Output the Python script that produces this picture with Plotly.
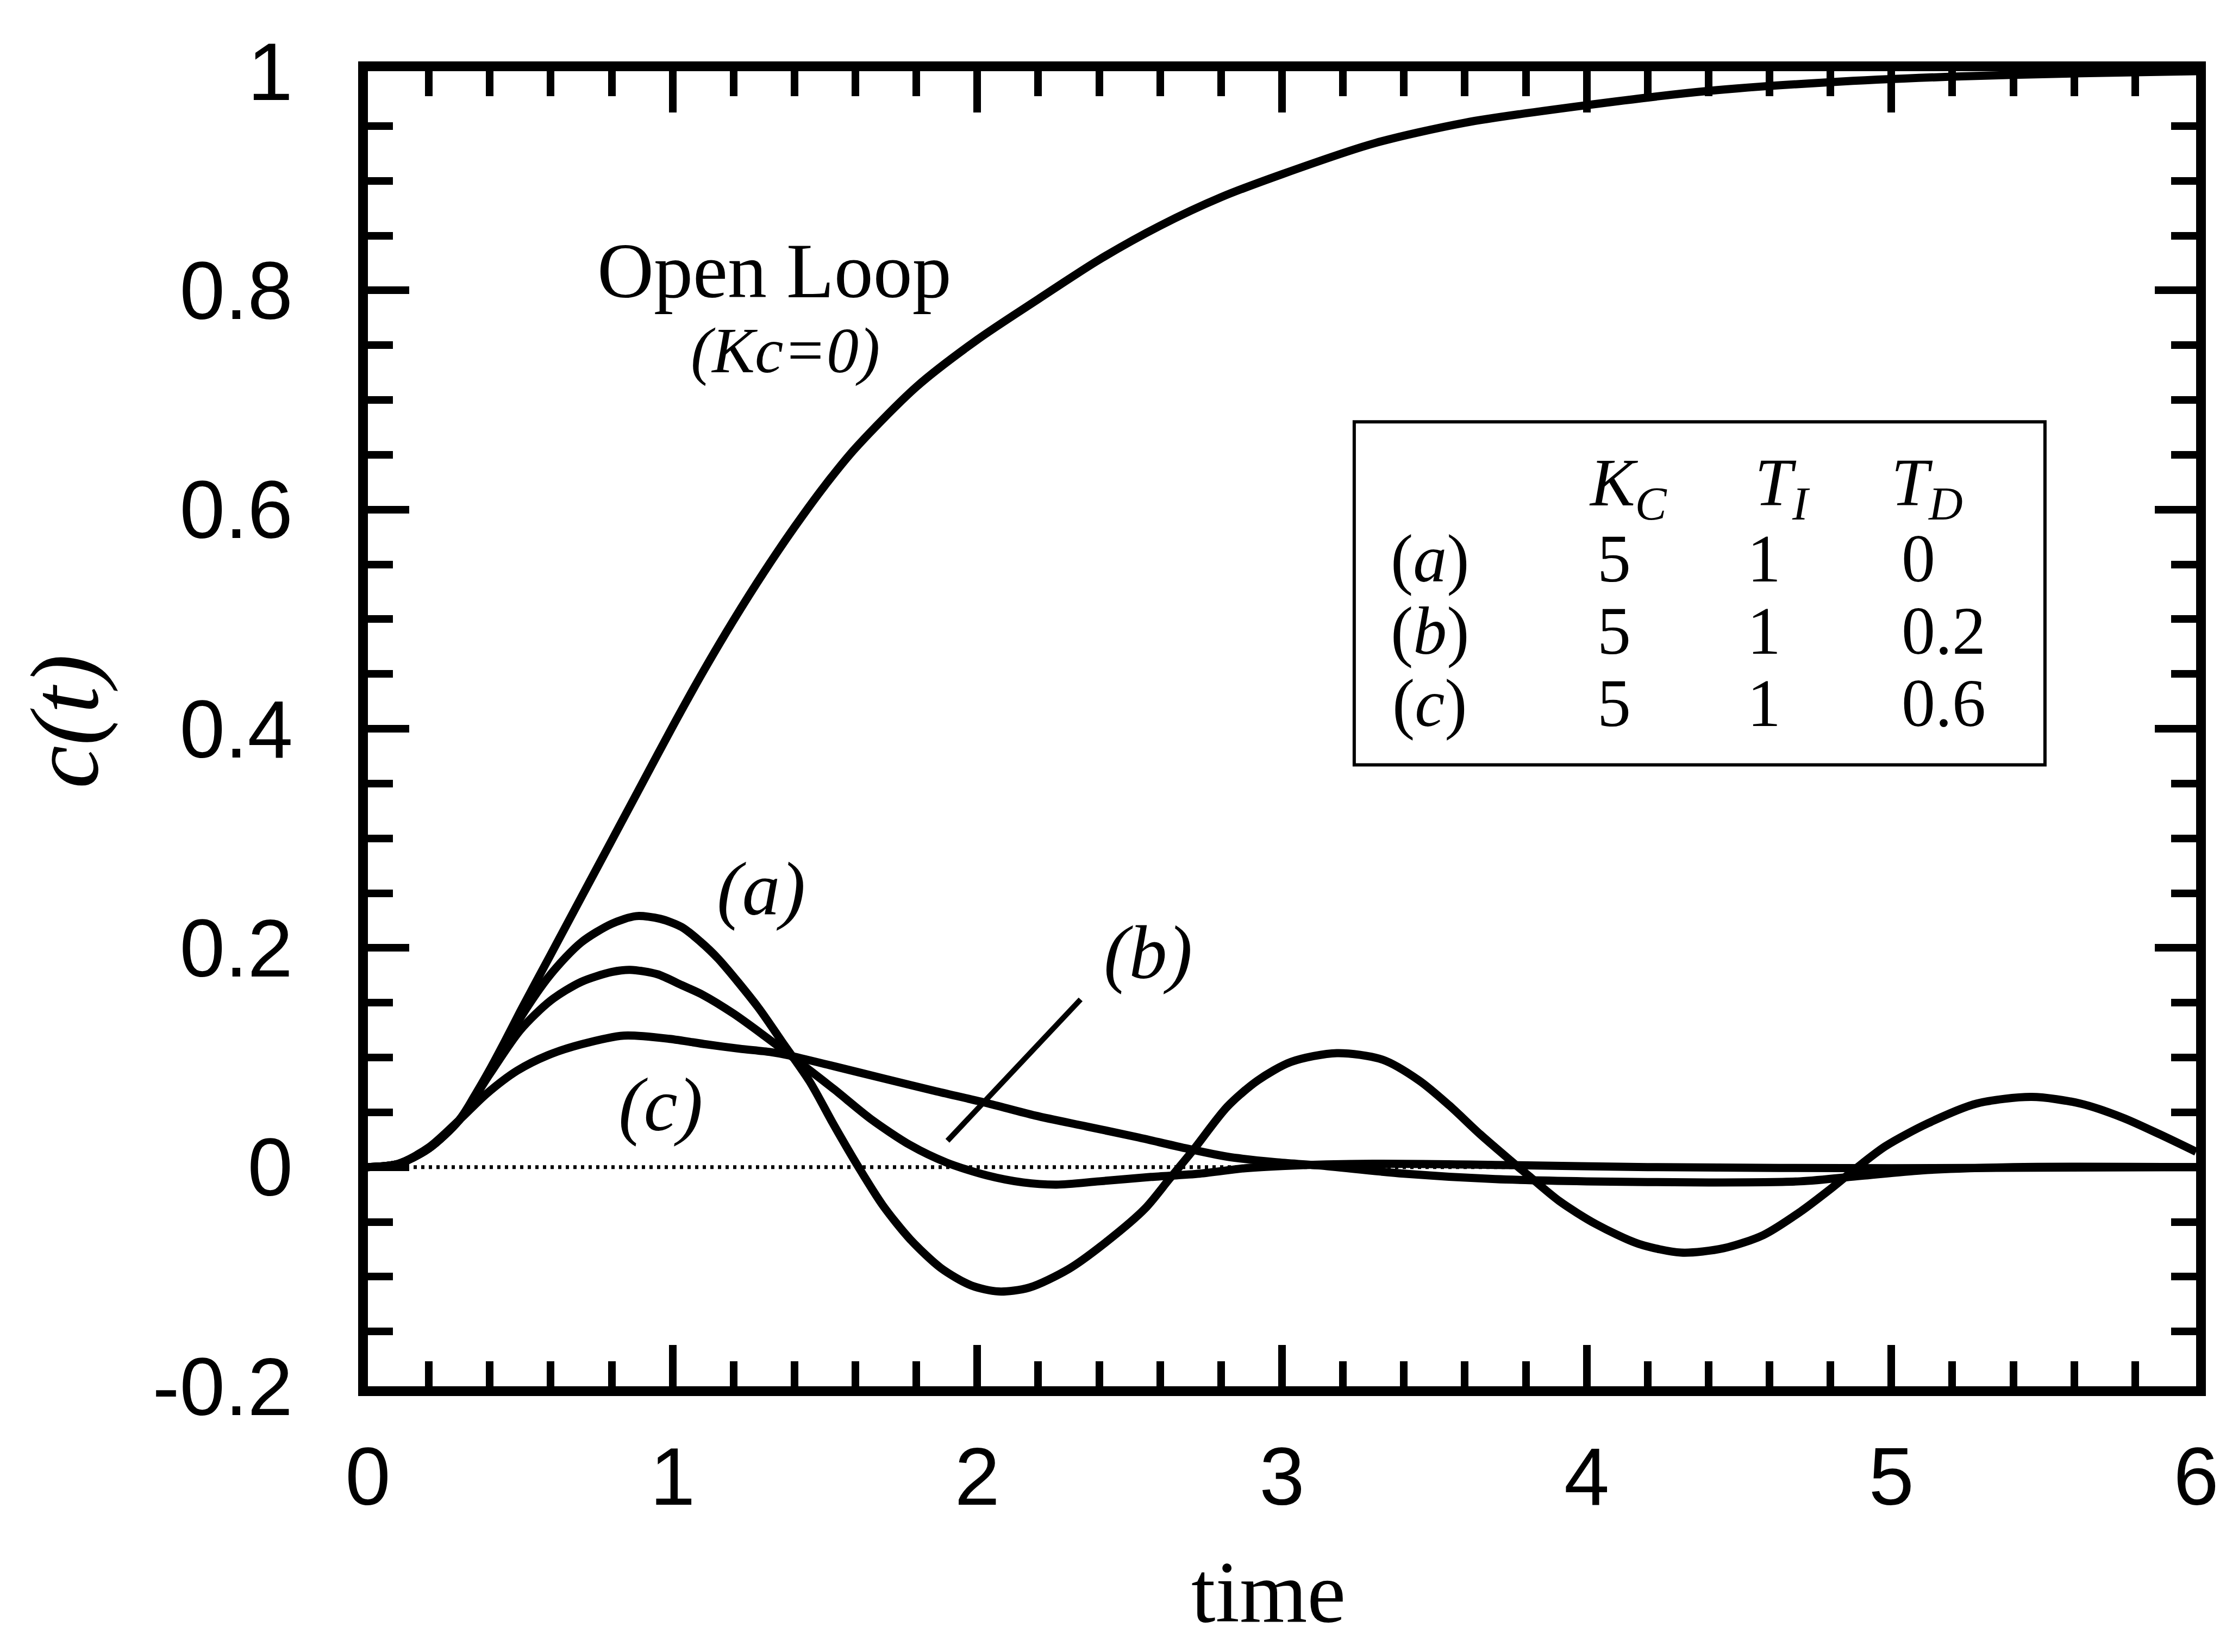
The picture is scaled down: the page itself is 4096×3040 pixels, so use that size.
import plotly.graph_objects as go

# ---------------- data ----------------
t_open = [0, 0.1, 0.2, 0.3, 0.35, 0.4, 0.45, 0.5, 0.6, 0.7, 0.8, 0.9, 1.0, 1.1, 1.2, 1.3,
          1.4, 1.5, 1.6, 1.8, 2.0, 2.2, 2.4, 2.6, 2.8, 3.0, 3.3, 3.6, 4.0, 4.4, 4.8, 5.2,
          5.6, 6.0]
c_open = [0, 0.003, 0.017, 0.043, 0.065, 0.089, 0.115, 0.142, 0.194, 0.246, 0.298, 0.350,
          0.402, 0.452, 0.499, 0.543, 0.584, 0.622, 0.656, 0.712, 0.755, 0.792, 0.828,
          0.859, 0.885, 0.906, 0.934, 0.953, 0.969, 0.982, 0.990, 0.995, 0.998, 1.0]

t_a = [0, 0.1, 0.2, 0.3, 0.4, 0.5, 0.6, 0.7, 0.8, 0.88, 0.96, 1.03, 1.09, 1.15, 1.28,
       1.36, 1.45, 1.53, 1.61, 1.69, 1.78, 1.88, 1.98, 2.07, 2.17, 2.30, 2.42, 2.55,
       2.63, 2.71, 2.82, 2.92, 3.03, 3.18, 3.33, 3.45, 3.55, 3.65, 3.75, 3.81, 3.91,
       4.03, 4.17, 4.31, 4.45, 4.58, 4.70, 4.80, 4.88, 4.98, 5.12, 5.28, 5.46, 5.62,
       5.76, 5.88, 6.0]
c_a = [0, 0.003, 0.017, 0.043, 0.087, 0.136, 0.176, 0.205, 0.222, 0.229, 0.2265, 0.219,
       0.206, 0.190, 0.146, 0.114, 0.078, 0.038, 0.000, -0.035, -0.066, -0.092, -0.108,
       -0.1135, -0.110, -0.093, -0.069, -0.038, -0.011, 0.016, 0.055, 0.079, 0.096,
       0.104, 0.098, 0.079, 0.056, 0.030, 0.006, -0.008, -0.031, -0.052, -0.070,
       -0.078, -0.074, -0.062, -0.041, -0.020, -0.002, 0.019, 0.040, 0.058, 0.064,
       0.058, 0.045, 0.030, 0.014]

t_b = [0, 0.1, 0.2, 0.3, 0.4, 0.5, 0.6, 0.7, 0.8, 0.86, 0.95, 1.03, 1.10, 1.20, 1.30,
       1.40, 1.53, 1.65, 1.78, 1.90, 2.03, 2.15, 2.26, 2.40, 2.57, 2.73, 2.88, 3.0, 3.3,
       3.7, 4.2, 5.0, 6.0]
c_b = [0, 0.003, 0.017, 0.043, 0.085, 0.125, 0.152, 0.169, 0.178, 0.180, 0.176, 0.166,
       0.157, 0.140, 0.120, 0.099, 0.071, 0.044, 0.020, 0.004, -0.0075, -0.014, -0.016,
       -0.013, -0.009, -0.006, -0.001, 0.001, 0.003, 0.002, 0.0, -0.001, 0.0]

t_c = [0, 0.1, 0.2, 0.3, 0.39, 0.49, 0.59, 0.70, 0.84, 0.99, 1.11, 1.22, 1.32, 1.38,
       1.53, 1.69, 1.86, 2.03, 2.19, 2.36, 2.53, 2.67, 2.82, 2.98, 3.12, 3.4, 3.7, 4.0,
       4.4, 4.7, 4.9, 5.1, 5.4, 6.0]
c_c = [0, 0.003, 0.018, 0.043, 0.067, 0.088, 0.102, 0.112, 0.120, 0.117, 0.112, 0.108,
       0.105, 0.102, 0.092, 0.081, 0.0695, 0.0585, 0.047, 0.037, 0.027, 0.018, 0.0095,
       0.0044, 0.0015, -0.006, -0.011, -0.013, -0.014, -0.013, -0.008, -0.003, 0.0, 0.0]

t_zero = [0, 6]
c_zero = [0, 0]

pointer_t = [1.902, 2.339]
pointer_c = [0.024, 0.153]

x_tickvals = [0, 1, 2, 3, 4, 5, 6]
x_ticktext = ["0", "1", "2", "3", "4", "5", "6"]
y_tickvals = [-0.2, 0, 0.2, 0.4, 0.6, 0.8, 1.0]
y_ticktext = ["-0.2", "0", "0.2", "0.4", "0.6", "0.8", "1"]

table_labels = ["(<i>a</i>)", "(<i>b</i>)", "(<i>c</i>)"]
table_kc = ["5", "5", "5"]
table_ti = ["1", "1", "1"]
table_td = ["0", "0.2", "0.6"]
table_headers = ["<i>K</i><sub><i>C</i></sub>", "<i>T</i><sub><i>I</i></sub>",
                 "<i>T</i><sub><i>D</i></sub>"]

# ---------------- figure ----------------
W, H = 4096, 3040
LW_CURVE = 15
fig = go.Figure()

fig.add_trace(go.Scatter(x=t_zero, y=c_zero, mode="lines",
                         line=dict(color="black", width=7, dash="6px,8px"),
                         hoverinfo="skip"))
for tt, cc in [(t_open, c_open), (t_a, c_a), (t_b, c_b), (t_c, c_c)]:
    fig.add_trace(go.Scatter(x=tt, y=cc, mode="lines",
                             line=dict(color="black", width=LW_CURVE,
                                       shape="spline", smoothing=0.8),
                             hoverinfo="skip"))
fig.add_trace(go.Scatter(x=pointer_t, y=pointer_c, mode="lines",
                         line=dict(color="black", width=10), hoverinfo="skip"))

serif = "Liberation Serif"
sans = "Liberation Sans"

ann = []
def txt(x, y, text, size, xanchor="center", italic=False, xref="x", yref="y", angle=0):
    if italic:
        text = "<i>" + text + "</i>"
    ann.append(dict(x=x, y=y, xref=xref, yref=yref, text=text, showarrow=False,
                    xanchor=xanchor, yanchor="middle", textangle=angle,
                    font=dict(family=serif, size=size, color="black")))

txt(1.335, 0.818, "Open Loop", 144)
txt(1.37, 0.745, "(Kc=0)", 118, italic=True)
txt(1.29, 0.254, "(a)", 140, italic=True)
txt(2.56, 0.196, "(b)", 140, italic=True)
txt(0.96, 0.057, "(c)", 140, italic=True)

# table
hdr_x = [4.136, 4.643, 5.117]
for hx, h in zip(hdr_x, table_headers):
    txt(hx, 0.620, h, 124)
row_y = [0.555, 0.489, 0.423]
for ry, lab, kc, ti, td in zip(row_y, table_labels, table_kc, table_ti, table_td):
    txt(3.486, ry, lab, 124)
    txt(4.090, ry, kc, 124)
    txt(4.582, ry, ti, 124)
    txt(5.030, ry, td, 124, xanchor="left")

fig.add_shape(type="rect", xref="x", yref="y", x0=3.237, x1=5.504, y0=0.367, y1=0.680,
              line=dict(color="black", width=6), fillcolor="rgba(0,0,0,0)")

# axis titles
ml, mr, mt, mb = 669, 63, 123, 497
pw, ph = W - ml - mr, H - mt - mb
txt((2326 - ml) / pw, -(2922 - (H - mb)) / ph, "time", 160,
    xref="paper", yref="paper")
txt((111 - ml) / pw, 1 - (1320 - mt) / ph, "c(t)", 178, italic=True,
    xref="paper", yref="paper", angle=-90)

fig.update_layout(annotations=ann)

common = dict(showgrid=False, zeroline=False, showline=True, linewidth=18,
              linecolor="black", mirror="allticks", ticks="inside", ticklen=76,
              tickwidth=14, tickcolor="black",
              tickfont=dict(family=sans, size=150, color="black"))
fig.update_xaxes(range=[0, 6], tickmode="array", tickvals=x_tickvals,
                 ticktext=x_ticktext, ticklabelstandoff=20,
                 minor=dict(tickmode="linear", tick0=0, dtick=0.2, ticks="inside",
                            ticklen=46, tickwidth=14, tickcolor="black", showgrid=False),
                 **common)
fig.update_yaxes(range=[-0.2, 1.0], tickmode="array", tickvals=y_tickvals,
                 ticktext=y_ticktext, ticklabelstandoff=90,
                 minor=dict(tickmode="linear", tick0=0, dtick=0.05, ticks="inside",
                            ticklen=46, tickwidth=14, tickcolor="black", showgrid=False),
                 **common)

fig.update_layout(width=W, height=H, showlegend=False,
                  margin=dict(l=ml, r=mr, t=mt, b=mb, pad=0),
                  paper_bgcolor="white", plot_bgcolor="white")

fig.write_html("out.html")
